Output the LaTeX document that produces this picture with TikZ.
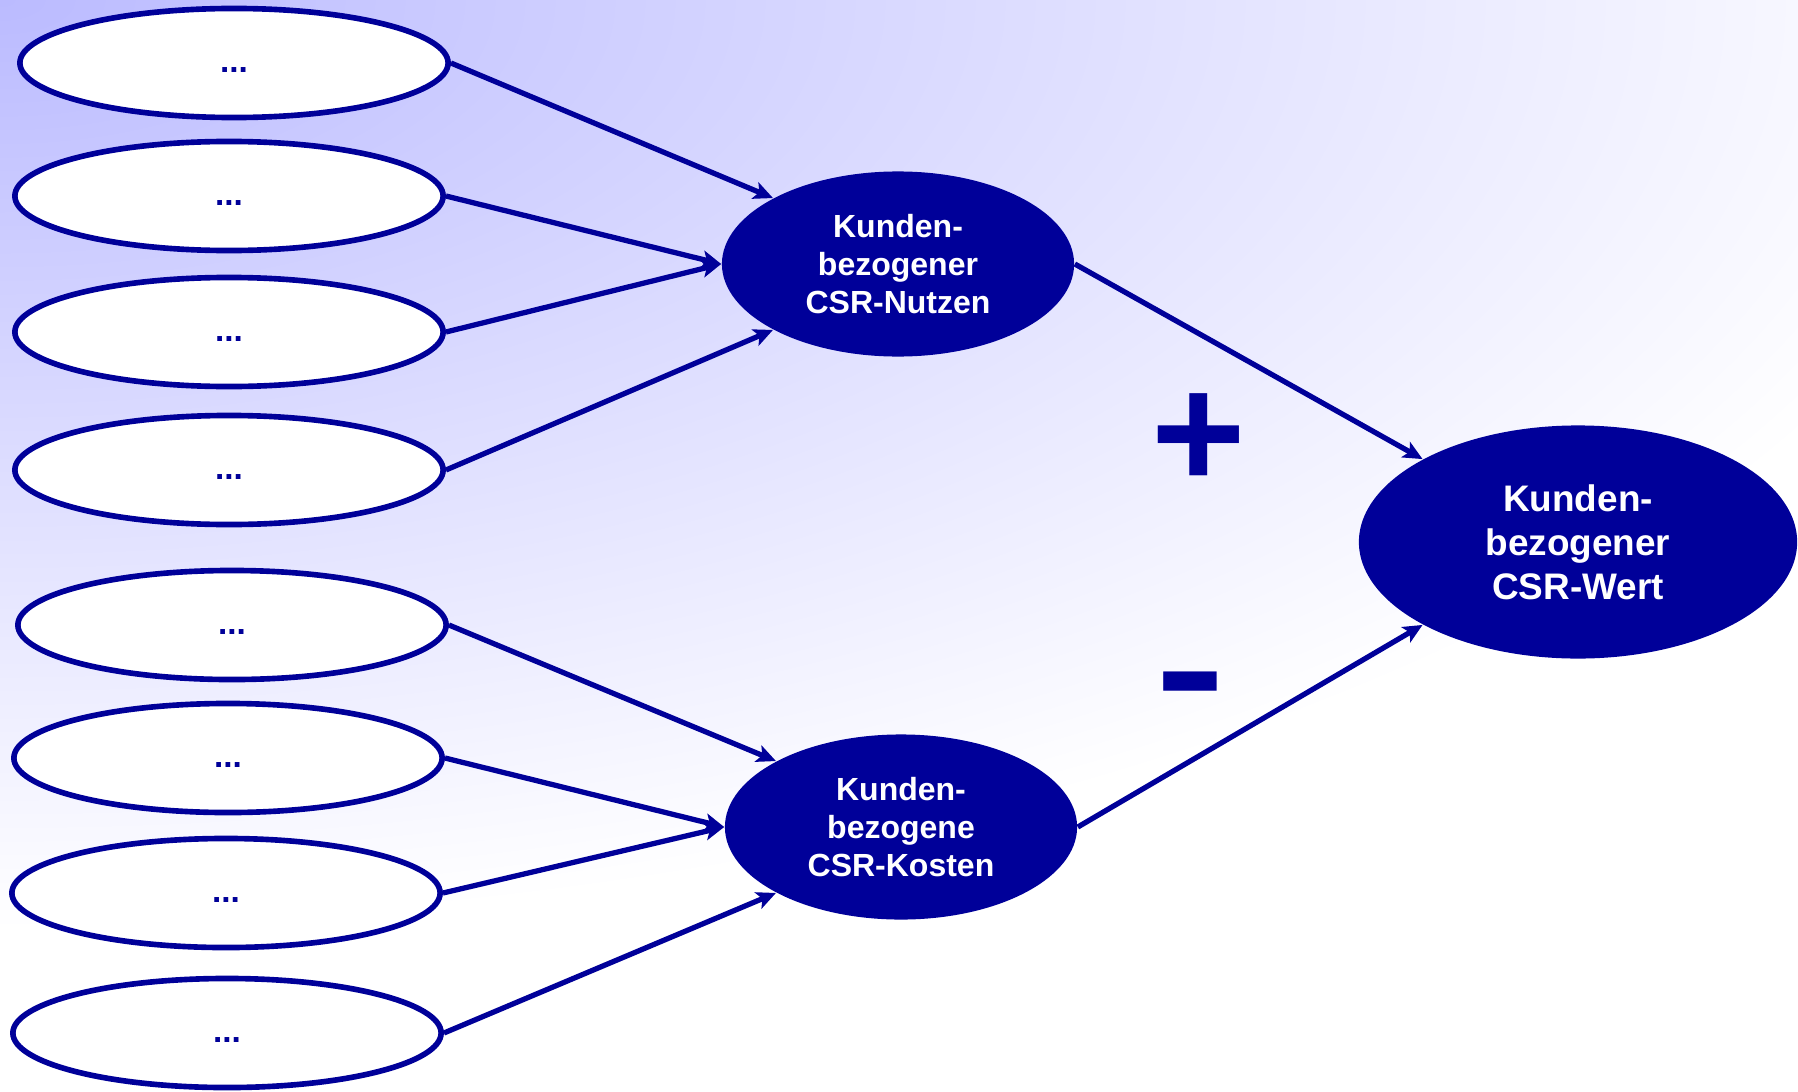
\documentclass[tikz,border=0pt]{standalone}
\usepackage{fontspec}
\setmainfont{Liberation Sans}
\usetikzlibrary{shapes.geometric,arrows.meta}

\definecolor{navy}{RGB}{0,0,153}
\definecolor{haze}{RGB}{187,187,255}
% soft lavender glow spreading from the upper left corner
\pgfdeclareradialshading{backglow}{\pgfpoint{0bp}{0bp}}{color(0bp)=(haze); color(25bp)=(white); color(50bp)=(white)}

\tikzset{
  leaf/.style={ellipse, draw=navy, line width=1.6pt, fill=white,
    minimum width=4.28cm, minimum height=1.09cm, inner sep=0pt,
    text height=5.6pt, text depth=0pt,
    text=navy, font=\bfseries\fontsize{9.5}{10}\selectfont},
  core/.style={ellipse, fill=navy, text=white, align=center, inner sep=0pt,
    minimum width=3.52cm, minimum height=1.85cm,
    font=\bfseries\fontsize{9.1}{10.9}\selectfont},
  result/.style={ellipse, fill=navy, text=white, align=center, inner sep=0pt,
    minimum width=4.38cm, minimum height=2.33cm,
    font=\bfseries\fontsize{10.5}{12.5}\selectfont},
  link/.style={navy, line width=1.5pt,
    -{Stealth[length=5.5pt,width=5pt,inset=1.3pt]}},
  sign/.style={text=navy, inner sep=0pt,
    font=\bfseries\fontsize{46}{46}\selectfont}
}

\begin{document}
\begin{tikzpicture}[x=0.01cm,y=-0.01cm]
  \useasboundingbox (0,0) rectangle (1798,1091);

  % background
  \fill[white] (0,0) rectangle (1798,1091);
  \begin{scope}
    \clip (0,0) rectangle (1798,1091);
    \shade[shading=backglow] (0,0) ellipse [x radius=2040, y radius=930];
  \end{scope}

  % indicators on the benefit side
  \node[leaf] (b1) at (234,63)  {...};
  \node[leaf] (b2) at (229,196) {...};
  \node[leaf] (b3) at (229,332) {...};
  \node[leaf] (b4) at (229,470) {...};

  % indicators on the cost side
  \node[leaf] (k1) at (232,625)  {...};
  \node[leaf] (k2) at (228,758)  {...};
  \node[leaf] (k3) at (226,893)  {...};
  \node[leaf] (k4) at (227,1033) {...};

  % constructs
  \node[core] (nutzen) at (898,264) {Kunden-\\bezogener\\CSR-Nutzen};
  \node[core] (kosten) at (901,827) {Kunden-\\bezogene\\CSR-Kosten};
  \node[result] (wert) at (1578,542) {Kunden-\\bezogener\\CSR-Wert};

  % paths
  \draw[link] (b1.east) -- (nutzen.north west);
  \draw[link] (b2.east) -- (nutzen.west);
  \draw[link] (b3.east) -- (nutzen.west);
  \draw[link] (b4.east) -- (nutzen.south west);

  \draw[link] (k1.east) -- (kosten.north west);
  \draw[link] (k2.east) -- (kosten.west);
  \draw[link] (k3.east) -- (kosten.west);
  \draw[link] (k4.east) -- (kosten.south west);

  \draw[link] (nutzen.east) -- (wert.north west);
  \draw[link] (kosten.east) -- (wert.south west);

  % signs of the effects
  \node[sign] (plus) at (1199,441) {+};
  \node[sign, xscale=1.3] (minus) at (1190,698) {-};
\end{tikzpicture}
\end{document}
